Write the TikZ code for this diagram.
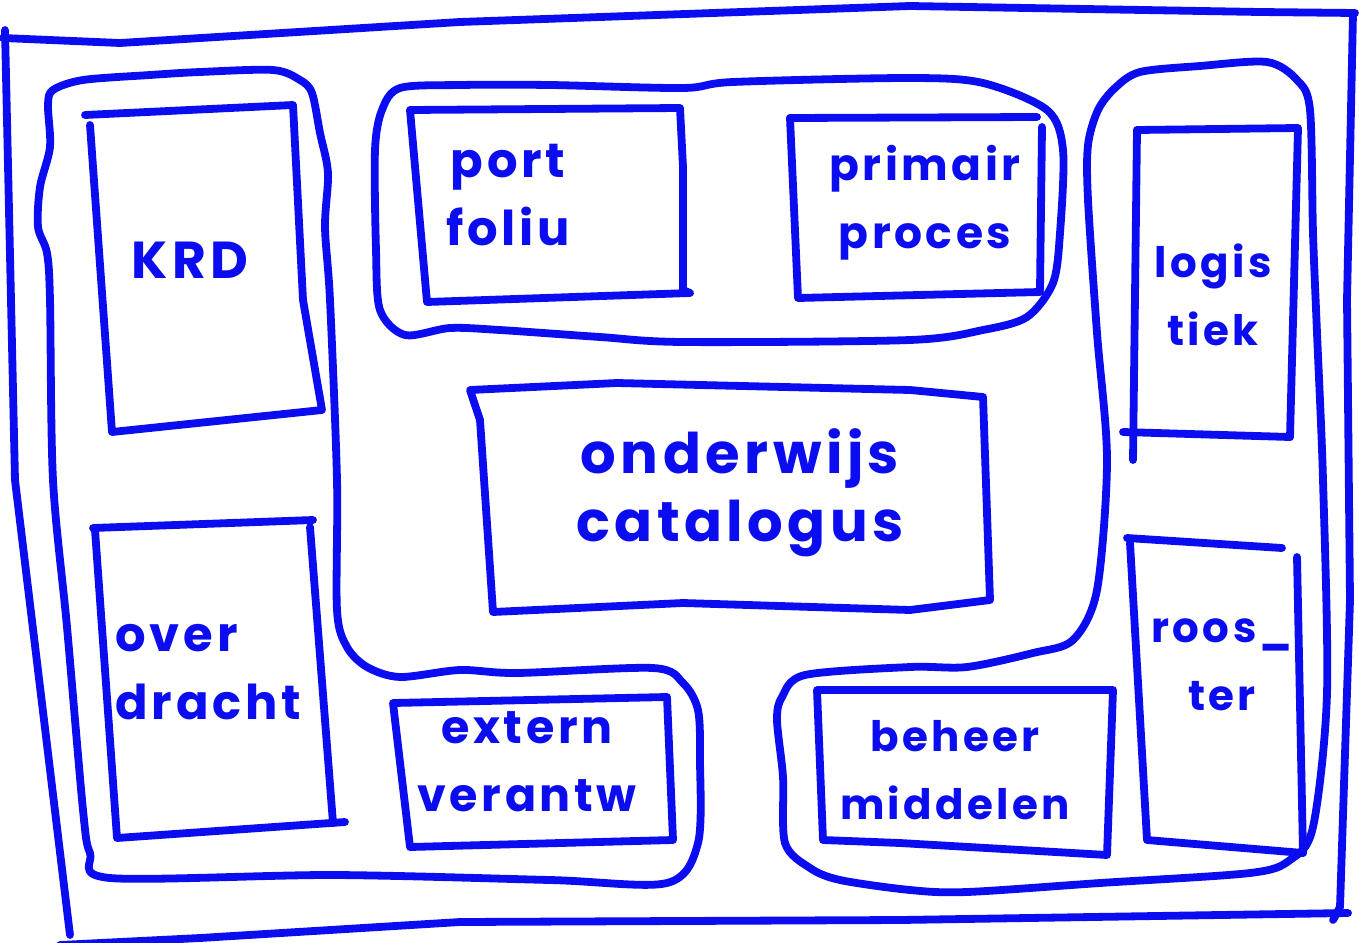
\documentclass[tikz,border=0pt]{standalone}
\usepackage{fontspec}
\newfontfamily\hand[LetterSpace=8]{Poppins}
\definecolor{ink}{RGB}{12,12,240}
\begin{document}
\begin{tikzpicture}[x=0.5pt,y=-0.5pt,
  pen/.style={draw=ink, line width=3.9pt, line cap=round, line join=round},
  lbl/.style={text=ink, font=\hand\bfseries\fontsize{#1}{34}\selectfont, align=center, inner sep=0pt},
  lbl/.default=24]
\useasboundingbox[fill=white] (0,0) rectangle (1359,942);

% outer frame
\draw[pen] (5,30) -- (15,480) -- (70,935);
\draw[pen] (3,38) -- (120,43) -- (460,22) -- (910,6) -- (1260,12) -- (1355,13);
\draw[pen] (1353,13) -- (1347,300) -- (1350,600) -- (1340,907) -- (1333,920);
\draw[pen] (60,945) -- (200,938) -- (460,922) -- (900,920) -- (1348,913);

% left group (left column + strip under extern)
\draw[pen] plot[smooth cycle, tension=0.5] coordinates {
 (53,90) (83,80) (150,75) (200,72) (273,70) (300,80) (312,93) (320,133) (328,173)
 (325,227) (330,300) (337,480) (337,610) (347,647) (367,667) (400,677) (460,670)
 (517,673) (653,668) (683,683) (698,710) (700,760) (698,843) (667,883) (550,880)
 (333,875) (110,878) (90,853) (83,810) (67,627) (53,480) (50,300) (47,253)
 (38,227) (40,187) (50,147) (48,105)};

% top group
\draw[pen] plot[smooth cycle, tension=0.5] coordinates {
 (400,88) (460,85) (550,85) (683,88) (733,82) (910,78) (983,83) (1047,110) (1063,150)
 (1060,233) (1053,283) (1027,317) (983,330) (910,340) (683,342) (600,337) (500,330)
 (450,328) (405,335) (380,310) (376,250) (375,150) (382,110)};

% right group (right column + strip around beheer)
\draw[pen] plot[smooth cycle, tension=0.5] coordinates {
 (1098,110) (1115,88) (1140,72) (1200,66) (1267,62) (1297,80) (1310,110) (1313,233)
 (1317,333) (1323,480) (1327,693) (1313,827) (1290,860) (1250,873) (1100,883)
 (967,892) (910,890) (840,880) (810,868) (785,843) (783,777) (777,720) (782,697)
 (805,675) (910,667) (967,667) (1033,653) (1073,640) (1097,590) (1107,460)
 (1097,333) (1088,200) (1088,145)};

% KRD
\draw[pen] (85,115) -- (293,105) -- (303,300) -- (322,410) -- (112,432) -- (90,125);
% over dracht
\draw[pen] (93,528) -- (313,520);
\draw[pen] (310,527) -- (333,823);
\draw[pen] (345,822) -- (117,838) -- (95,530);
% portfolio
\draw[pen] (410,110) -- (680,108) -- (683,167) -- (683,290) -- (690,293) -- (427,302) -- (410,110);
% primair proces
\draw[pen] (790,118) -- (1037,117);
\draw[pen] (1042,127) -- (1040,290);
\draw[pen] (1040,292) -- (798,298) -- (790,118);
% onderwijs catalogus
\draw[pen] (470,390) -- (617,383) -- (910,390) -- (983,397) -- (990,600) -- (910,610) -- (683,603) -- (493,612) -- (480,420) -- cycle;
% extern verantw
\draw[pen] (393,703) -- (667,697) -- (673,840) -- (410,847) -- cycle;
% beheer middelen
\draw[pen] (817,690) -- (1113,690) -- (1107,855) -- (900,843) -- (823,840) -- cycle;
% logistiek
\draw[pen] (1137,130) -- (1298,128) -- (1290,437);
\draw[pen] (1123,432) -- (1290,437);
\draw[pen] (1137,130) -- (1133,460);
% rooster
\draw[pen] (1127,538) -- (1282,548);
\draw[pen] (1297,557) -- (1303,853);
\draw[pen] (1130,543) -- (1147,840) -- (1303,853);

% labels
\node[lbl=26] (krd) at (190,260) {KRD};
\node[lbl=24] (portfolio) at (508,195) {port\\foliu};
\node[lbl=22] (primair) at (925,203) {primair\\proces};
\node[lbl=28] (onderwijs) at (740,493) {onderwijs\\catalogus};
\node[lbl=21] (logistiek) at (1213,295) {logis\\tiek};
\node[lbl=24, align=left, anchor=west] (overdracht) at (115,672) {over\\dracht};
\node[lbl=23] (extern) at (527,762) {extern\\verantw};
\node[lbl=21] (beheer) at (955,770) {beheer\\middelen};
\node[lbl=21] (rooster) at (1222,665) {roos\_\\ter};
\end{tikzpicture}
\end{document}
